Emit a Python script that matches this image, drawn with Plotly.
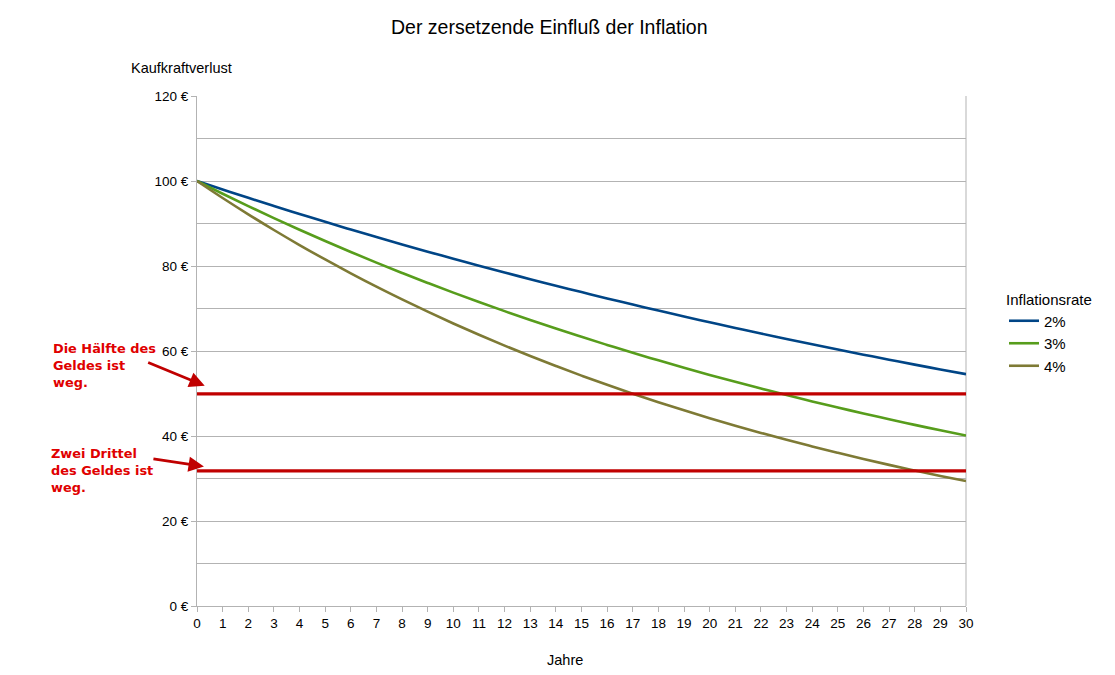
import plotly.graph_objects as go

years = list(range(0, 31))
series_names = ["2%", "3%", "4%"]
values_2 = [100.0, 98.0, 96.04, 94.12, 92.24, 90.39, 88.58, 86.81, 85.08, 83.37, 81.71,
            80.07, 78.47, 76.90, 75.36, 73.86, 72.38, 70.93, 69.51, 68.12, 66.76,
            65.43, 64.12, 62.83, 61.58, 60.35, 59.14, 57.96, 56.80, 55.66, 54.55]
values_3 = [100.0, 97.0, 94.09, 91.27, 88.53, 85.87, 83.30, 80.80, 78.37, 76.02, 73.74,
            71.53, 69.38, 67.30, 65.28, 63.33, 61.43, 59.58, 57.80, 56.06, 54.38,
            52.75, 51.17, 49.63, 48.14, 46.70, 45.30, 43.94, 42.62, 41.34, 40.10]
values_4 = [100.0, 96.0, 92.16, 88.47, 84.93, 81.54, 78.28, 75.14, 72.14, 69.25, 66.48,
            63.82, 61.27, 58.82, 56.47, 54.21, 52.04, 49.96, 47.96, 46.04, 44.20,
            42.43, 40.73, 39.10, 37.54, 36.04, 34.60, 33.21, 31.88, 30.61, 29.39]
half_level = 49.9
two_thirds_level = 31.8
colors = ["#004586", "#579D1C", "#7E7A35"]
red = "#C00000"

fig = go.Figure()
for name, vals, c in zip(series_names, [values_2, values_3, values_4], colors):
    fig.add_trace(go.Scatter(x=years, y=vals, name=name, mode="lines",
                             line=dict(color=c, width=2.6, shape="spline")))
for lvl in [half_level, two_thirds_level]:
    fig.add_trace(go.Scatter(x=[years[0], years[-1]], y=[lvl, lvl], mode="lines",
                             showlegend=False, hoverinfo="skip",
                             line=dict(color=red, width=3.2)))

OFF = 8  # page body offset
W, H = 1115 - OFF, 675 - OFF
L, R, T, B = 197, 966, 96, 606  # target plot area in window pixels

def px(xp):
    return (xp - L) / (R - L)

def py(yp):
    return (B - yp) / (B - T)

annots = [
    dict(text="Der zersetzende Einfluß der Inflation", xref="paper", yref="paper",
         x=px(549), y=py(27), xanchor="center", yanchor="middle", showarrow=False,
         font=dict(size=19.5, color="#000000")),
    dict(text="Kaufkraftverlust", xref="paper", yref="paper",
         x=px(129), y=py(68), xanchor="left", yanchor="middle", showarrow=False,
         font=dict(size=14.5, color="#000000")),
    dict(text="Jahre", xref="paper", yref="paper",
         x=px(565), y=py(660), xanchor="center", yanchor="middle", showarrow=False,
         font=dict(size=14.5, color="#000000")),
    dict(text="<b>Die Hälfte des<br>Geldes ist<br>weg.</b>", xref="paper", yref="paper",
         x=px(51), y=py(339), xanchor="left", yanchor="top", align="left", showarrow=False,
         font=dict(size=12.9, color="#E00000", family="DejaVu Sans")),
    dict(text="<b>Zwei Drittel<br>des Geldes ist<br>weg.</b>", xref="paper", yref="paper",
         x=px(49), y=py(444), xanchor="left", yanchor="top", align="left", showarrow=False,
         font=dict(size=12.9, color="#E00000", family="DejaVu Sans")),
    dict(text="", xref="x", yref="y", x=0.3, y=51.8, ax=-58, ay=-24,
         showarrow=True, arrowhead=2, arrowsize=1.1, arrowwidth=2.8, arrowcolor=red),
    dict(text="", xref="x", yref="y", x=0.27, y=32.8, ax=-52, ay=-8,
         showarrow=True, arrowhead=2, arrowsize=1.1, arrowwidth=2.8, arrowcolor=red),
]

fig.update_layout(
    width=W, height=H,
    margin=dict(l=L - OFF, r=1115 - R, t=T - OFF, b=675 - B),
    paper_bgcolor="white", plot_bgcolor="white",
    font=dict(family="Liberation Sans, Arial, sans-serif", size=13, color="#000000"),
    showlegend=True,
    legend=dict(title=dict(text="Inflationsrate", font=dict(size=15)),
                x=px(1004), y=py(285), xanchor="left", yanchor="top",
                font=dict(size=15), tracegroupgap=0, itemwidth=30,
                bgcolor="rgba(0,0,0,0)"),
    annotations=annots,
)
fig.update_xaxes(range=[0, 30], tickmode="array", tickvals=years,
                 ticktext=[str(v) for v in years], showgrid=False,
                 showline=True, linecolor="#B3B3B3", linewidth=1,
                 ticks="outside", ticklen=5, tickcolor="#B3B3B3",
                 mirror=False, zeroline=False, tickfont=dict(size=13.5))
fig.update_yaxes(range=[0, 120], dtick=20, ticksuffix=" €", showgrid=True,
                 gridcolor="#B3B3B3", gridwidth=1,
                 minor=dict(dtick=10, showgrid=True, gridcolor="#B3B3B3", gridwidth=1),
                 showline=True, linecolor="#B3B3B3", linewidth=1,
                 ticks="outside", ticklen=5, tickcolor="#B3B3B3",
                 zeroline=False, tickfont=dict(size=13.5))
# right border of plot area
fig.add_shape(type="line", xref="paper", yref="paper", x0=1, x1=1, y0=0, y1=1,
              line=dict(color="#B3B3B3", width=1), layer="below")

fig.write_html("out.html")
